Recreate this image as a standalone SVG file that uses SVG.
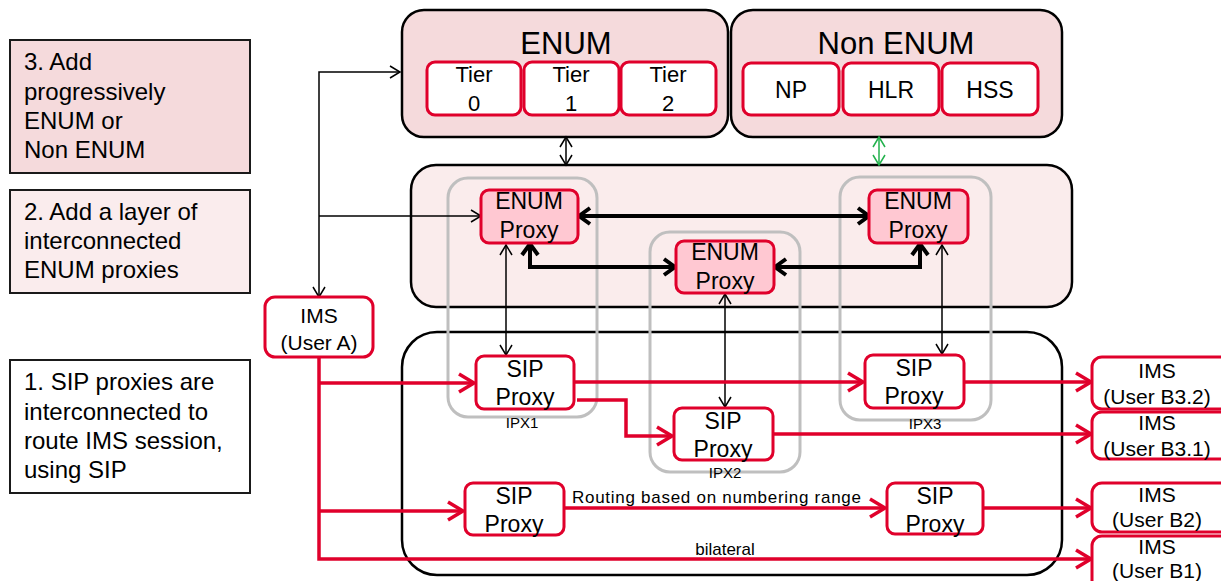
<svg xmlns="http://www.w3.org/2000/svg" width="1221" height="581" viewBox="0 0 1221 581">
<style>
text{font-family:"Liberation Sans",Arial,sans-serif;fill:#000}
.note{stroke:#1a1a1a;stroke-width:2}
.nt{font-size:24px}
.cont{stroke:#000;stroke-width:2.5}
.red{fill:#fff;stroke:#E0002B;stroke-width:3}
.ep{fill:#FFC8D2;stroke:#E0002B;stroke-width:3}
.ipx{fill:none;stroke:#BFBFBF;stroke-width:3}
.c{text-anchor:middle}
.px{font-size:23px}
.im{font-size:21px}
.rl{fill:none;stroke:#E0002B;stroke-width:3.5}
.tk{fill:none;stroke:#000;stroke-width:4}
.tn{fill:none;stroke:#000;stroke-width:1.5}
.gn{fill:none;stroke:#22B14C;stroke-width:1.5}
</style>
<defs>
<marker id="mr" markerUnits="userSpaceOnUse" viewBox="-2 -2 24 24" markerWidth="24" markerHeight="24" refX="17" refY="10" orient="auto-start-reverse" overflow="visible">
<path d="M2,1 L17,10 L2,19" fill="none" stroke="#E0002B" stroke-width="3.5"/>
</marker>
<marker id="mk" markerUnits="userSpaceOnUse" viewBox="-2 -2 20 22" markerWidth="20" markerHeight="22" refX="13" refY="9" orient="auto-start-reverse" overflow="visible">
<path d="M2,1 L13,9 L2,17" fill="none" stroke="#000" stroke-width="4"/>
</marker>
<marker id="mt" markerUnits="userSpaceOnUse" viewBox="0 0 12 14" markerWidth="12" markerHeight="14" refX="11" refY="7" orient="auto-start-reverse" overflow="visible">
<path d="M1,1 L11,7 L1,13" fill="none" stroke="#000" stroke-width="1.5"/>
</marker>
<marker id="mg" markerUnits="userSpaceOnUse" viewBox="0 0 12 14" markerWidth="12" markerHeight="14" refX="11" refY="7" orient="auto-start-reverse" overflow="visible">
<path d="M1,1 L11,7 L1,13" fill="none" stroke="#22B14C" stroke-width="1.5"/>
</marker>
</defs>
<rect width="1221" height="581" fill="#fff"/>

<g id="note3">
<rect x="10" y="40" width="240" height="133" fill="#F5DADC" class="note"/>
<text class="nt" x="24" y="70">3. Add</text>
<text class="nt" x="24" y="100">progressively</text>
<text class="nt" x="24" y="129">ENUM or</text>
<text class="nt" x="24" y="158">Non ENUM</text>
</g>
<g id="note2">
<rect x="10" y="190" width="240" height="103" fill="#FAECED" class="note"/>
<text class="nt" x="24" y="220">2. Add a layer of</text>
<text class="nt" x="24" y="249">interconnected</text>
<text class="nt" x="24" y="278">ENUM proxies</text>
</g>
<g id="note1">
<rect x="10" y="360" width="240" height="133" fill="#fff" class="note"/>
<text class="nt" x="24" y="390">1. SIP proxies are</text>
<text class="nt" x="24" y="420">interconnected to</text>
<text class="nt" x="24" y="449">route IMS session,</text>
<text class="nt" x="24" y="478">using SIP</text>
</g>

<g id="enum">
<rect x="402" y="10" width="326" height="127" rx="22" fill="#F5DADC" class="cont"/>
<text class="c" x="566" y="54" font-size="31">ENUM</text>
</g>
<g id="nonenum">
<rect x="731" y="10" width="331" height="127" rx="22" fill="#F5DADC" class="cont"/>
<text class="c" x="896" y="54" font-size="31">Non ENUM</text>
</g>
<g id="tier0"><rect x="427" y="62" width="94" height="53" rx="8" class="red"/><text class="c" x="474" y="82" font-size="22">Tier</text><text class="c" x="474" y="111" font-size="22">0</text></g>
<g id="tier1"><rect x="524" y="62" width="95" height="53" rx="8" class="red"/><text class="c" x="571" y="82" font-size="22">Tier</text><text class="c" x="571" y="111" font-size="22">1</text></g>
<g id="tier2"><rect x="621" y="62" width="95" height="53" rx="8" class="red"/><text class="c" x="668" y="82" font-size="22">Tier</text><text class="c" x="668" y="111" font-size="22">2</text></g>
<g id="np"><rect x="743" y="63" width="96" height="52" rx="8" class="red"/><text class="c" x="791" y="98" font-size="23">NP</text></g>
<g id="hlr"><rect x="843" y="63" width="96" height="52" rx="8" class="red"/><text class="c" x="891" y="98" font-size="23">HLR</text></g>
<g id="hss"><rect x="942" y="63" width="96" height="52" rx="8" class="red"/><text class="c" x="990" y="98" font-size="23">HSS</text></g>

<g id="enumlayer"><rect x="411" y="165" width="661" height="142" rx="25" fill="#FAECEC" class="cont"/></g>
<g id="siplayer"><rect x="402" y="332" width="660" height="243" rx="35" fill="none" class="cont"/></g>

<g id="ipx1"><rect x="448" y="178" width="149" height="239" rx="20" class="ipx"/><text class="c" x="522" y="428" font-size="15">IPX1</text></g>
<g id="ipx2"><rect x="650" y="232" width="150" height="240" rx="20" class="ipx"/><text class="c" x="725" y="478" font-size="15">IPX2</text></g>
<g id="ipx3"><rect x="840" y="177" width="151" height="243" rx="20" class="ipx"/><text class="c" x="925" y="429" font-size="15">IPX3</text></g>

<g id="connectors">
<path class="tn" d="M400,72 H319 V297" marker-start="url(#mt)" marker-end="url(#mt)"/>
<path class="tn" d="M319,216 H481" marker-end="url(#mt)"/>
<path class="tn" d="M566,137 V165" marker-start="url(#mt)" marker-end="url(#mt)"/>
<path class="gn" d="M879,137 V165" marker-start="url(#mg)" marker-end="url(#mg)"/>
<path class="tk" d="M579,216 H869" marker-start="url(#mk)" marker-end="url(#mk)"/>
<path class="tk" d="M530,244 V267 H675" marker-start="url(#mk)" marker-end="url(#mk)"/>
<path class="tk" d="M920,244 V267 H775" marker-start="url(#mk)" marker-end="url(#mk)"/>
<path class="tn" d="M506,245 V355" marker-start="url(#mt)" marker-end="url(#mt)"/>
<path class="tn" d="M725,294 V407" marker-start="url(#mt)" marker-end="url(#mt)"/>
<path class="tn" d="M942,245 V354" marker-start="url(#mt)" marker-end="url(#mt)"/>
<path class="rl" d="M319,358 V559 H1091" marker-end="url(#mr)"/>
<path class="rl" d="M319,383 H474" marker-end="url(#mr)"/>
<path class="rl" d="M319,511 H463" marker-end="url(#mr)"/>
<path class="rl" d="M574,382 H863" marker-end="url(#mr)"/>
<path class="rl" d="M577,400 H626 V436 H672" marker-end="url(#mr)"/>
<path class="rl" d="M773,434 H1091" marker-end="url(#mr)"/>
<path class="rl" d="M964,382 H1091" marker-end="url(#mr)"/>
<path class="rl" d="M564,508 H885" marker-end="url(#mr)"/>
<path class="rl" d="M983,508 H1091" marker-end="url(#mr)"/>
<text x="572" y="503" font-size="17" textLength="289" lengthAdjust="spacing">Routing based on numbering  range</text>
<text class="c" x="725" y="555" font-size="17">bilateral</text>
</g>

<g id="ep1"><rect x="481" y="190" width="97" height="53" rx="8" class="ep"/><text class="c px" x="529" y="209">ENUM</text><text class="c px" x="529" y="238">Proxy</text></g>
<g id="ep2"><rect x="676" y="241" width="98" height="52" rx="8" class="ep"/><text class="c px" x="725" y="260">ENUM</text><text class="c px" x="725" y="289">Proxy</text></g>
<g id="ep3"><rect x="869" y="190" width="99" height="53" rx="8" class="ep"/><text class="c px" x="918" y="209">ENUM</text><text class="c px" x="918" y="238">Proxy</text></g>

<g id="sip1"><rect x="476" y="356" width="98" height="53" rx="8" class="red"/><text class="c px" x="525" y="377">SIP</text><text class="c px" x="525" y="405">Proxy</text></g>
<g id="sip2"><rect x="674" y="408" width="99" height="52" rx="8" class="red"/><text class="c px" x="723" y="429">SIP</text><text class="c px" x="723" y="457">Proxy</text></g>
<g id="sip3"><rect x="865" y="355" width="99" height="53" rx="8" class="red"/><text class="c px" x="914" y="376">SIP</text><text class="c px" x="914" y="404">Proxy</text></g>
<g id="sip4"><rect x="465" y="483" width="99" height="52" rx="8" class="red"/><text class="c px" x="514" y="504">SIP</text><text class="c px" x="514" y="532">Proxy</text></g>
<g id="sip5"><rect x="887" y="483" width="96" height="51" rx="8" class="red"/><text class="c px" x="935" y="504">SIP</text><text class="c px" x="935" y="532">Proxy</text></g>

<g id="imsA"><rect x="265" y="297" width="108" height="60" rx="10" class="red"/><text class="c im" x="319" y="323">IMS</text><text class="c im" x="319" y="350">(User A)</text></g>
<g id="imsB32"><rect x="1092" y="357" width="140" height="52" rx="10" class="red"/><text class="c im" x="1157" y="378">IMS</text><text class="c im" x="1157" y="404">(User B3.2)</text></g>
<g id="imsB31"><rect x="1092" y="412" width="140" height="47" rx="10" class="red"/><text class="c im" x="1157" y="430">IMS</text><text class="c im" x="1157" y="456">(User B3.1)</text></g>
<g id="imsB2"><rect x="1092" y="483" width="140" height="49" rx="10" class="red"/><text class="c im" x="1157" y="502">IMS</text><text class="c im" x="1157" y="527">(User B2)</text></g>
<g id="imsB1"><rect x="1092" y="536" width="140" height="55" rx="10" class="red"/><text class="c im" x="1157" y="554">IMS</text><text class="c im" x="1157" y="578">(User B1)</text></g>
</svg>
